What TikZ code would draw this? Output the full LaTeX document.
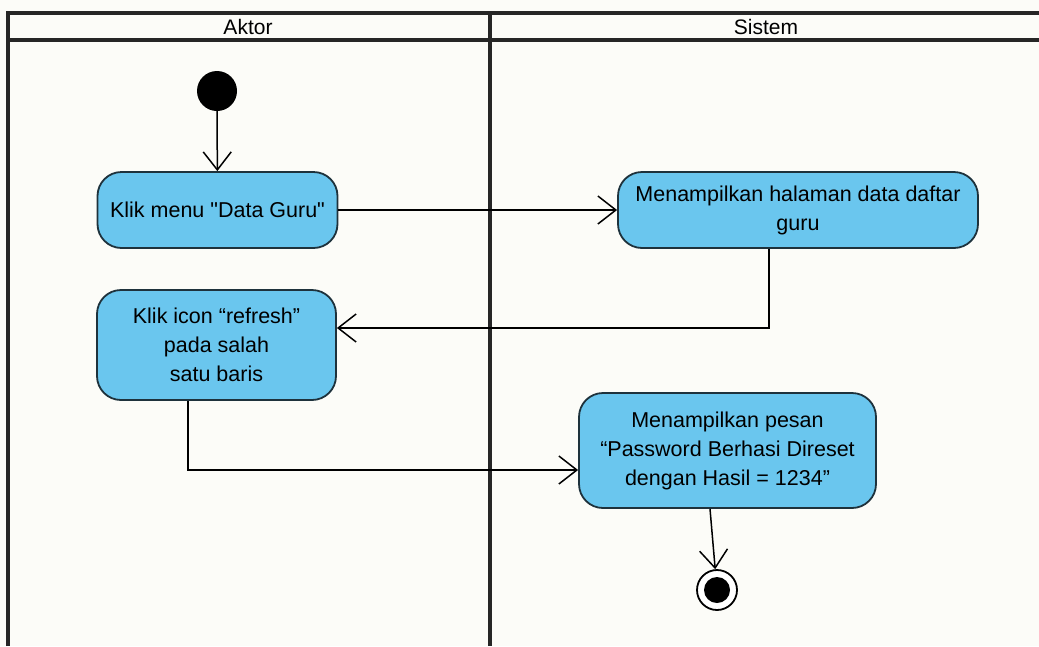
\documentclass[tikz,border=0pt]{standalone}
\usepackage{fontspec}
\setmainfont{Liberation Sans}
\usetikzlibrary{arrows.meta}
\definecolor{actfill}{RGB}{106,198,238}
\definecolor{actdraw}{RGB}{30,50,60}
\definecolor{bgcol}{RGB}{252,252,248}
\begin{document}
\begin{tikzpicture}[x=1pt,y=-1pt,
  lane/.style={line width=3.2pt,draw=black!85},
  act/.style={draw=actdraw,line width=1.8pt,fill=actfill,rounded corners=24pt,
    align=center,font=\fontsize{21.5}{29}\selectfont,inner sep=4pt},
  arr/.style={line width=1.5pt,-{Straight Barb[length=18pt,width=28pt,line width=1.5pt]}},
  hdr/.style={font=\fontsize{21}{24}\selectfont}]
\fill[bgcol] (0,0) rectangle (1039,646);
\useasboundingbox (0,0) rectangle (1039,646);
% swimlanes
\draw[lane] (8,646) -- (8,13) -- (1039,13);
\draw[lane] (8,40) -- (1039,40);
\draw[lane] (490,13) -- (490,646);
\node[hdr] (hAktor) at (248,26.5) {Aktor};
\node[hdr] (hSistem) at (766,26.5) {Sistem};
% nodes
\node[circle,fill=black,minimum size=40pt,inner sep=0pt] (start) at (217,91) {};
\node[act,minimum width=240pt,minimum height=76pt] (b1) at (217.5,210) {Klik menu \textquotedbl Data Guru\textquotedbl};
\node[act,minimum width=239pt,minimum height=110pt] (b2) at (216.5,345) {Klik icon “refresh”\\pada salah\\satu baris};
\node[act,minimum width=360pt,minimum height=76pt] (b3) at (798,210) {Menampilkan halaman data daftar\\guru};
\node[act,minimum width=297pt,minimum height=115pt] (b4) at (727.5,450.5) {Menampilkan pesan\\“Password Berhasi Direset\\dengan Hasil = 1234”};
\node[circle,draw=black,line width=1.8pt,fill=white,minimum size=40pt,inner sep=0pt] (final) at (717,590) {};
\fill[black] (final.center) circle (13pt);
% edges
\draw[arr] (start) -- (b1);
\draw[arr] (b1) -- (b3);
\draw[arr] ([xshift=-29pt]b3.south) |- ([yshift=17pt]b2.east);
\draw[arr] ([xshift=-28.5pt]b2.south) |- ([yshift=-19.5pt]b4.west);
\draw[arr] ([xshift=-17.5pt]b4.south) -- (final);
\end{tikzpicture}
\end{document}
